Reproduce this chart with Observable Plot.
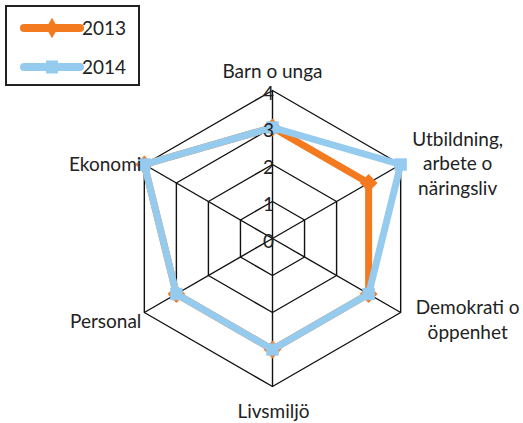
<!DOCTYPE html>
<html>
<head>
<meta charset="utf-8">
<script src="https://cdn.jsdelivr.net/npm/d3@7"></script>
<script src="https://cdn.jsdelivr.net/npm/@observablehq/plot@0.6"></script>
<style>
  html, body { margin: 0; padding: 0; background: #fff; }
  #wrap { position: relative; width: 523px; height: 423px; font-family: Lato, "Open Sans", sans-serif; }
  #legend { position: absolute; left: 5px; top: 5px; width: 131px; height: 77px; border: 2px solid #222; background: #fff; box-sizing: content-box; }
</style>
</head>
<body>
<div id="wrap"><div id="chart"></div><div id="legend"></div></div>
<script>
const categories = ["Barn o unga", "Utbildning, arbete o näringsliv", "Demokrati o öppenhet", "Livsmiljö", "Personal", "Ekonomi"];
const categoryLabels = ["Barn o unga", "Utbildning,\narbete o\nnäringsliv", "Demokrati o\nöppenhet", "Livsmiljö", "Personal", "Ekonomi"];
const values2013 = [3, 3, 3, 3, 3, 4];
const values2014 = [3, 4, 3, 3, 3, 4];
const seriesNames = ["2013", "2014"];
const tickValues = [0, 1, 2, 3, 4];
const maxValue = 4;

const colors = {"2013": "#F47A20", "2014": "#95CBEE"};

// layout
const W = 523, H = 423, cx = 272, cy = 238, unit = 37;
const n = categories.length;
const ang = i => i * 2 * Math.PI / n;
const px = (i, v) => v * Math.sin(ang(i));
const py = (i, v) => v * Math.cos(ang(i));

const series = [
  {name: seriesNames[0], values: values2013},
  {name: seriesNames[1], values: values2014}
];
const seriesPts = series.flatMap(s => s.values.map((v, i) => ({series: s.name, i, v})));

const rings = tickValues.filter(t => t > 0).flatMap(t => categories.map((c, i) => ({t, i})));
const spokes = categories.map((c, i) => ({i}));
const ticks = tickValues.map(t => ({t}));

// label offsets in pixels from the outer vertex
const labelLayout = [
  {dx: 0, dy: -20, anchor: "middle"},
  {dx: 57, dy: -2, anchor: "middle"},
  {dx: 67, dy: 6, anchor: "middle"},
  {dx: 1, dy: 24, anchor: "middle"},
  {dx: -3, dy: 8, anchor: "end"},
  {dx: -3, dy: -1, anchor: "end"}
];
const labels = categories.map((c, i) => ({i, text: categoryLabels[i], ...labelLayout[i]}));

const pts = name => seriesPts.filter(d => d.series === name);
const lineOpts = name => ({x: d => px(d.i, d.v), y: d => py(d.i, d.v), curve: "linear-closed", stroke: colors[name], strokeWidth: 7, strokeLinejoin: "miter"});

const chart = Plot.plot({
  width: W, height: H, margin: 0,
  style: {fontFamily: "Lato, 'Open Sans', sans-serif", fontSize: "19px", background: "transparent"},
  x: {domain: [-cx / unit, (W - cx) / unit], axis: null},
  y: {domain: [-(H - cy) / unit, cy / unit], axis: null},
  marks: [
    Plot.line(rings, {x: d => px(d.i, d.t), y: d => py(d.i, d.t), z: "t", curve: "linear-closed", stroke: "#111", strokeWidth: 1.4}),
    Plot.link(spokes, {x1: 0, y1: 0, x2: d => px(d.i, maxValue), y2: d => py(d.i, maxValue), stroke: "#111", strokeWidth: 1.4}),
    Plot.line(pts("2013"), lineOpts("2013")),
    Plot.dot(pts("2013"), {x: d => px(d.i, d.v), y: d => py(d.i, d.v), symbol: "diamond2", r: 8, fill: colors["2013"], stroke: "none"}),
    Plot.line(pts("2014"), lineOpts("2014")),
    Plot.dot(pts("2014"), {x: d => px(d.i, d.v), y: d => py(d.i, d.v), symbol: "square", r: 7, fill: colors["2014"], stroke: "none"}),
    Plot.text(ticks, {x: 0, y: d => d.t, text: d => String(d.t), dx: -4, dy: 3, fontSize: 19, fill: "#222"}),
    ...["middle", "end"].map(a => Plot.text(labels.filter(d => d.anchor === a), {
      x: d => px(d.i, maxValue) + d.dx / unit, y: d => py(d.i, maxValue) - d.dy / unit, text: "text",
      textAnchor: a, lineAnchor: "middle", lineHeight: 1.3, fontSize: 19, fill: "#222"
    }))
  ]
});
document.getElementById("chart").append(chart);

// Legend
const leg = d3.select("#legend").append("svg").attr("width", 131).attr("height", 77)
  .style("font-family", "Lato, 'Open Sans', sans-serif");
seriesNames.forEach((name, k) => {
  const y = k === 0 ? 21 : 60;
  const g = leg.append("g");
  g.append("line").attr("x1", 17).attr("x2", 73).attr("y1", y).attr("y2", y)
    .attr("stroke", colors[name]).attr("stroke-width", 8).attr("stroke-linecap", "round");
  if (k === 0) {
    g.append("path").attr("d", d3.symbol(d3.symbolDiamond, 120)()).attr("transform", `translate(45,${y})`).attr("fill", colors[name]);
  } else {
    g.append("rect").attr("x", 39).attr("y", y - 6.5).attr("width", 12).attr("height", 13).attr("fill", colors[name]);
  }
  g.append("text").attr("x", 75).attr("y", y).attr("dy", "0.35em").attr("font-size", 19).attr("fill", "#222").text(name);
});
</script>
</body>
</html>
